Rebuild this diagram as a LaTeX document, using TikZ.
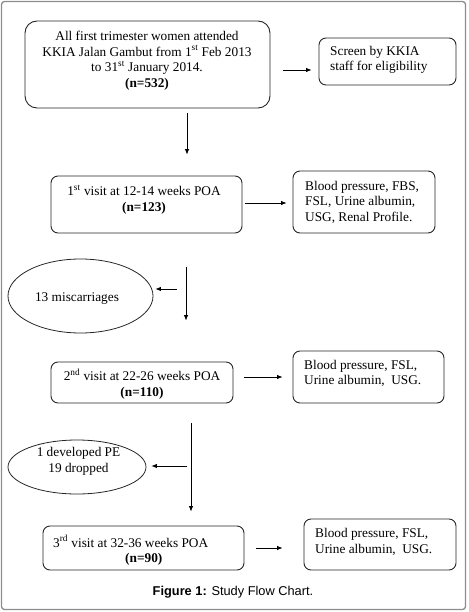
\documentclass[tikz,border=0pt]{standalone}
\usepackage{fontspec}
\setmainfont{Liberation Serif}
\newfontfamily\capfont{Liberation Sans}
\usetikzlibrary{arrows.meta,shapes.geometric}
\tikzset{
  box/.style={draw=black!85, line width=0.9pt, rounded corners=7pt, inner sep=0pt},
  bigbox/.style={box, rounded corners=12pt},
  oval/.style={draw=black!85, line width=0.8pt, ellipse, inner sep=0pt},
  txt/.style={inner sep=0pt, font=\fontsize{13.3}{15.5}\selectfont},
  arr/.style={draw=black, line width=0.8pt, -{Latex[length=5.5pt,width=4.5pt]}},
  frame/.style={draw=black!45, line width=1.3pt, rounded corners=3pt}
}
\begin{document}
\begin{tikzpicture}[x=1pt,y=-1pt]
\useasboundingbox (0,0) rectangle (468,612);
\draw[frame] (1.5,1.5) rectangle (465.5,609.5);

% boxes
\node[bigbox, minimum width=245pt, minimum height=87pt] (b1) at (147.5,64.5) {};
\node[txt, align=center] (t1) at (147,60.5) {All first trimester women attended\\KKIA Jalan Gambut from 1\textsuperscript{st} Feb 2013\\to 31\textsuperscript{st} January 2014.\\\textbf{(n=532)}};

\node[box, minimum width=137pt, minimum height=47pt] (b2) at (387.5,61.5) {};
\node[txt, align=left, anchor=west] (t2) at (330,60) {Screen by KKIA\\staff for eligibility};

\node[box, minimum width=191pt, minimum height=57pt] (b3) at (146.5,204.5) {};
\node[txt, align=center] (t3) at (144,199.5) {1\textsuperscript{st} visit at 12-14 weeks POA\\\textbf{(n=123)}};

\node[box, minimum width=142pt, minimum height=62pt] (b4) at (364,202) {};
\node[txt, align=left, anchor=west] (t4) at (305,202) {Blood pressure, FBS,\\FSL, Urine albumin,\\USG, Renal Profile.};

\node[oval, minimum width=145pt, minimum height=74pt] (e1) at (80.5,296) {};
\node[txt] (te1) at (77,299) {13 miscarriages};

\node[box, minimum width=182pt, minimum height=41pt] (b5) at (142,382.5) {};
\node[txt, align=center] (t5) at (142,384) {2\textsuperscript{nd} visit at 22-26 weeks POA\\\textbf{(n=110)}};

\node[box, minimum width=151pt, minimum height=52pt] (b6) at (368.5,377) {};
\node[txt, align=left, anchor=west] (t6) at (304,373.5) {Blood pressure, FSL,\\Urine albumin,\ \ USG.};

\node[oval, minimum width=138pt, minimum height=54pt] (e2) at (77,467) {};
\node[txt, align=center] (te2) at (78.5,461.5) {1 developed PE\\19 dropped};

\node[box, minimum width=201pt, minimum height=44pt] (b7) at (143.5,548) {};
\node[txt, align=left, anchor=west] (t7) at (53,550.5) {3\textsuperscript{rd} visit at 32-36 weeks POA\\\hspace*{72pt}\textbf{(n=90)}};

\node[box, minimum width=152pt, minimum height=51pt] (b8) at (380,544.5) {};
\node[txt, align=left, anchor=west] (t8) at (315,542) {Blood pressure, FSL,\\Urine albumin,\ \ USG.};

% caption
\node[inner sep=0pt, font=\capfont\fontsize{12.8}{15}\selectfont] (cap) at (233,592) {\textbf{Figure 1:} Study Flow Chart.};

% connectors
\draw[arr, shorten <=13pt, shorten >=7pt] ([yshift=-5.5pt]b1.east) -- ([yshift=-5.5pt]b1.east -| b2.west);
\draw[arr, shorten <=5pt, shorten >=21pt] ([xshift=39.5pt]b1.south) -- ([xshift=39.5pt]b1.south |- b3.north);
\draw[arr, shorten <=3pt, shorten >=6pt] ([yshift=1.5pt]b3.east) -- ([yshift=1.5pt]b3.east -| b4.west);
\draw[arr, shorten <=34pt, shorten >=41pt] ([xshift=39.5pt]b3.south) -- ([xshift=39.5pt]b3.south |- b5.north);
\coordinate (m1) at (177,289);
\draw[arr, shorten >=2pt] (m1) -- (m1 -| e1.east);
\draw[arr, shorten <=11pt, shorten >=10pt] ([yshift=5.5pt]b5.east) -- ([yshift=5.5pt]b5.east -| b6.west);
\draw[arr, shorten <=20pt, shorten >=14pt] ([xshift=49pt]b5.south) -- ([xshift=49pt]b5.south |- b7.north);
\coordinate (m2) at (187,466);
\draw[arr, shorten >=5pt] (m2) -- (m2 -| e2.east);
\draw[arr, shorten <=12pt, shorten >=21pt] (b7.east) -- (b7.east -| b8.west);
\end{tikzpicture}
\end{document}
